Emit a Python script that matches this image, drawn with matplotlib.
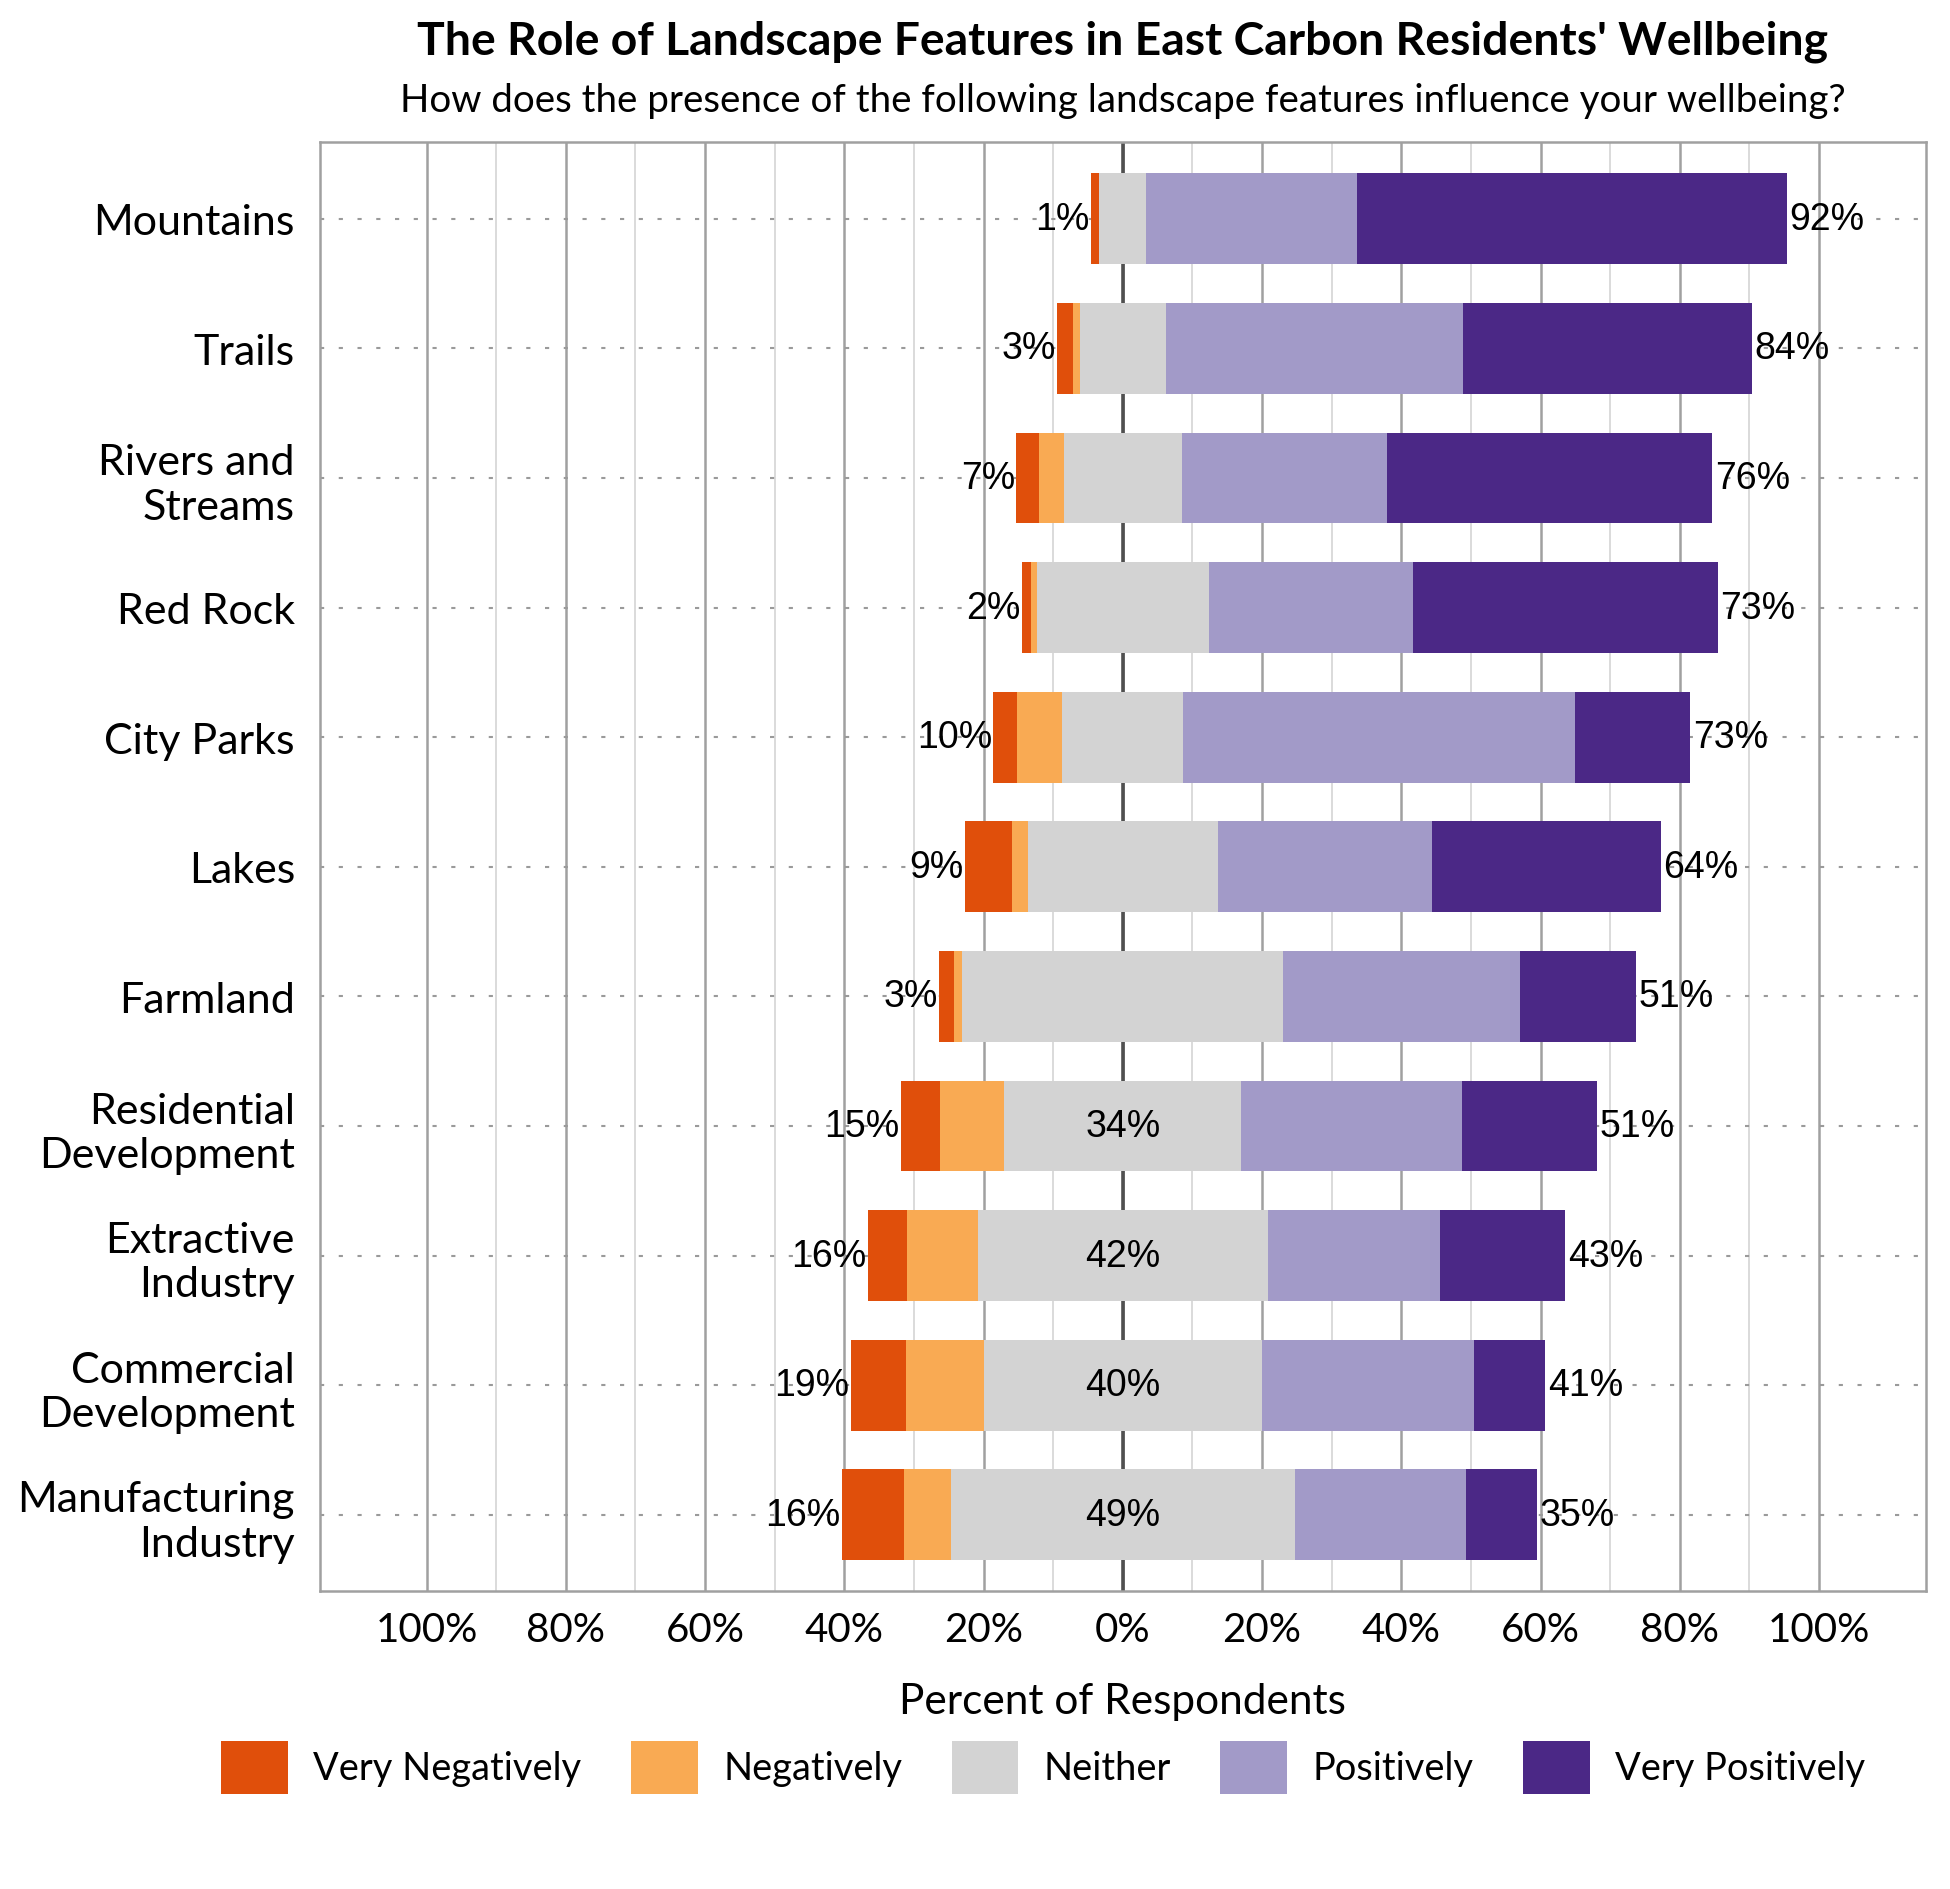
import matplotlib.pyplot as plt
from matplotlib.patches import Patch
import numpy as np


# survey answers, percent of respondents per landscape feature
categories = [
    "Mountains", "Trails", "Rivers and\nStreams", "Red Rock", "City Parks",
    "Lakes", "Farmland", "Residential\nDevelopment", "Extractive\nIndustry",
    "Commercial\nDevelopment", "Manufacturing\nIndustry",
]
very_negative = [1.2, 2.3, 3.3, 1.2, 3.4, 6.8, 2.1, 5.6, 5.6, 7.9, 9.0]
negative = [0.0, 1.0, 3.5, 0.9, 6.5, 2.2, 1.2, 9.3, 10.2, 11.2, 6.7]
neither = [6.7, 12.3, 17.0, 24.7, 17.4, 27.3, 46.1, 34.0, 41.6, 39.9, 49.4]
positive = [30.3, 42.7, 29.5, 29.3, 56.3, 30.7, 34.0, 31.7, 24.8, 30.5, 24.6]
very_positive = [61.7, 41.5, 46.6, 43.8, 16.5, 32.9, 16.6, 19.4, 17.9, 10.2, 10.2]
# the middle label is only printed for the last four rows
neither_labelled = [False] * 7 + [True] * 4

responses = ["Very Negatively", "Negatively", "Neither", "Positively",
             "Very Positively"]
colors = ["#e04f0b", "#f9aa53", "#d3d3d3", "#a29ac8", "#4b2886"]

CALIBRI_LIKE = "Lato"
ARIAL_LIKE = "Liberation Sans"


def main():
    vn = np.array(very_negative)
    ng = np.array(negative)
    ne = np.array(neither)
    ps = np.array(positive)
    vp = np.array(very_positive)
    y = np.arange(len(categories))

    fig = plt.figure(figsize=(19.5, 18.9), dpi=100)
    ax_box = [0.1641, 0.1575, 0.8234, 0.7667]
    ax = fig.add_axes(ax_box)

    # stacked diverging bars, neither centered on zero
    start = -(vn + ng + ne / 2)
    lefts = start.copy()
    for values, color in zip([vn, ng, ne, ps, vp], colors):
        ax.barh(y, values, left=lefts, height=0.7, color=color, zorder=3)
        lefts = lefts + values

    # labels
    for i in y:
        neg_total = vn[i] + ng[i]
        pos_total = ps[i] + vp[i]
        ax.text(start[i] - 0.2, i, f"{round(neg_total)}%", ha="right",
                va="center", fontsize=27, family=ARIAL_LIKE, zorder=4)
        ax.text(lefts[i] + 0.4, i, f"{round(pos_total)}%", ha="left",
                va="center", fontsize=27, family=ARIAL_LIKE, zorder=4)
        if neither_labelled[i]:
            ax.text(0, i, f"{round(ne[i])}%", ha="center", va="center",
                    fontsize=27, family=ARIAL_LIKE, zorder=4)

    # dotted row guides
    for i in y:
        ax.axhline(i, color="#9a9a9a", lw=1.5, ls=(0, (2, 7)), zorder=1)

    ax.set_xlim(-115.3, 115.3)
    ax.set_ylim(len(categories) - 0.41, -0.59)

    ticks = list(range(-100, 101, 20))
    ax.set_xticks(ticks, [f"{abs(t)}%" for t in ticks])
    ax.set_xticks(list(range(-90, 100, 20)), minor=True)
    ax.grid(axis="x", which="major", color="#a0a0a0", lw=1.8, zorder=0)
    ax.grid(axis="x", which="minor", color="#d4d4d4", lw=1.2, zorder=0)
    ax.axvline(0, color="#505050", lw=2.6, zorder=2)
    ax.set_axisbelow(True)

    ax.set_yticks(y, categories)
    ax.tick_params(axis="y", length=0, pad=18, labelsize=31)
    ax.tick_params(axis="x", which="both", length=0, pad=14, labelsize=29)
    for label in ax.get_xticklabels() + ax.get_yticklabels():
        label.set_family(CALIBRI_LIKE)

    for spine in ax.spines.values():
        spine.set_color("#a0a0a0")
        spine.set_linewidth(1.8)

    xc = ax_box[0] + ax_box[2] / 2
    fig.text(xc, 0.978, "The Role of Landscape Features in East Carbon "
             "Residents' Wellbeing", ha="center", va="center", fontsize=33.3,
             fontweight="bold", family=CALIBRI_LIKE)
    fig.text(xc, 0.9466, "How does the presence of the following landscape "
             "features influence your wellbeing?", ha="center", va="center",
             fontsize=27.7, family=CALIBRI_LIKE)
    fig.text(xc, 0.0995, "Percent of Respondents", ha="center", va="center",
             fontsize=30.5, family=CALIBRI_LIKE)

    handles = [Patch(facecolor=c, label=r) for c, r in zip(colors, responses)]
    fig.legend(handles=handles, loc="center", bbox_to_anchor=(0.535, 0.0645),
               ncol=5, frameon=False,
               prop={"family": CALIBRI_LIKE, "size": 27.4},
               handlelength=1.76, handleheight=1.76, handletextpad=0.66,
               columnspacing=1.3)

    fig.savefig("out.png", dpi=100)


if __name__ == "__main__":
    main()
